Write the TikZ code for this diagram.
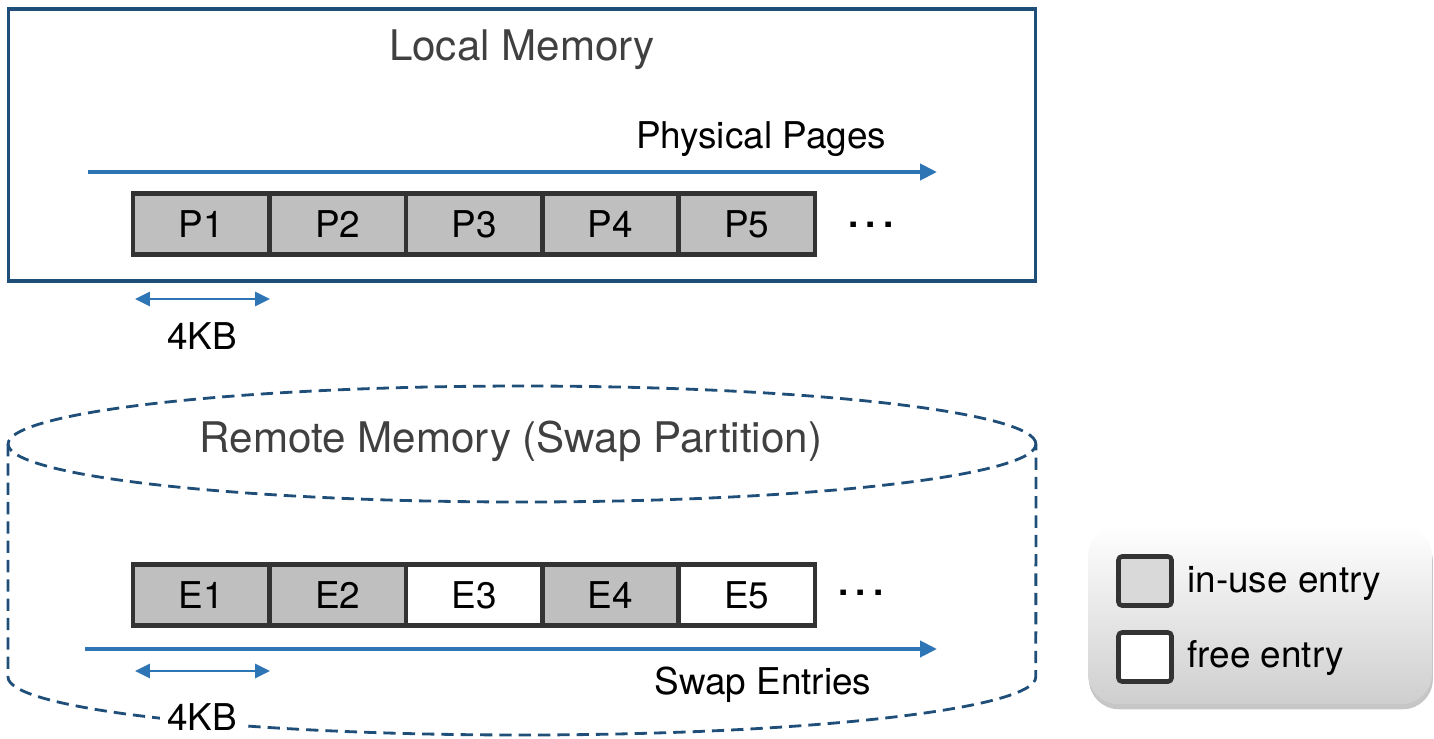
\documentclass[tikz,border=0pt]{standalone}
\usepackage{fontspec}
\setmainfont{TeX Gyre Heros}
\definecolor{memblue}{RGB}{31,78,121}
\definecolor{arrowblue}{RGB}{46,117,182}
\definecolor{cellgray}{RGB}{191,191,191}
\definecolor{cellline}{RGB}{51,51,51}
\definecolor{titlegray}{RGB}{64,64,64}
\usetikzlibrary{arrows.meta,shadows}

\begin{document}
\begin{tikzpicture}[x=0.02cm, y=-0.02cm,
    every node/.style={font=\fontsize{21}{25}\selectfont},
    title/.style={font=\fontsize{24}{28}\selectfont, text=titlegray},
    cell/.style={draw=cellline, line width=2.6pt, fill=cellgray, minimum width=2.728cm, minimum height=1.22cm, inner sep=0pt},
    freecell/.style={cell, fill=white},
    axis/.style={draw=arrowblue, line width=2.3pt, -{Triangle[length=0.34cm, width=0.32cm]}},
    sizearrow/.style={draw=arrowblue, line width=1.6pt, {Triangle[length=0.3cm, width=0.28cm]}-{Triangle[length=0.3cm, width=0.28cm]}},
    cyl/.style={draw=memblue, line width=1.6pt, dash pattern=on 7pt off 4pt},
    dots/.style={font=\fontsize{21}{25}\selectfont\bfseries, inner sep=0pt}]
    \useasboundingbox (0,0) rectangle (1434,738);

    % Local memory
    \node[draw=memblue, line width=1.8pt, minimum width=20.56cm, minimum height=5.44cm] (localmem) at (522,145) {};
    \node[title] (localtitle) at (522,50) {Local Memory};
    \node (physlabel) at (761,139) {Physical Pages};
    \coordinate (physstart) at (88,172);
    \coordinate (physend) at (937,172);
    \draw[axis] (physstart) -- (physend);

    % Physical pages
    \node[cell] (p1) at (201.2,224) {P1};
    \node[cell] (p2) at (337.6,224) {P2};
    \node[cell] (p3) at (474,224) {P3};
    \node[cell] (p4) at (610.4,224) {P4};
    \node[cell] (p5) at (746.8,224) {P5};
    \node[dots] (pdots) at (871,225) {.\hspace{4pt}.\hspace{4pt}.};

    % Page size
    \coordinate (pkbL) at (135,299);
    \coordinate (pkbR) at (270,299);
    \draw[sizearrow] (pkbL) -- (pkbR);
    \node (pkb) at (202,336) {4KB};

    % Remote memory (cylinder)
    \draw[cyl] (522,444) ellipse[x radius=10.28cm, y radius=1.16cm];
    \draw[cyl] (8,444) -- (8,677) arc[start angle=180, end angle=360, x radius=10.28cm, y radius=1.16cm] -- (1036,444);
    \node[title] (remotetitle) at (511,441) {Remote Memory (Swap Partition)};

    % Swap entries
    \node[cell] (e1) at (201.2,595) {E1};
    \node[cell] (e2) at (337.6,595) {E2};
    \node[freecell] (e3) at (474,595) {E3};
    \node[cell] (e4) at (610.4,595) {E4};
    \node[freecell] (e5) at (746.8,595) {E5};
    \node[dots] (edots) at (861,593) {.\hspace{4pt}.\hspace{4pt}.};

    \coordinate (swapstart) at (85,649);
    \coordinate (swapend) at (937,649);
    \draw[axis] (swapstart) -- (swapend);
    \node (swaplabel) at (763,685) {Swap Entries};

    % Entry size
    \coordinate (ekbL) at (135,671);
    \coordinate (ekbR) at (270,671);
    \draw[sizearrow] (ekbL) -- (ekbR);
    \node[fill=white, inner sep=4pt] (ekb) at (202,717) {4KB};

    % Legend
    \node[rounded corners=0.6cm, top color=white, bottom color=gray!38, drop shadow={shadow xshift=0.5pt, shadow yshift=-3pt, opacity=0.45}, minimum width=6.88cm, minimum height=3.56cm] (legend) at (1260,615) {};
    \node[draw=cellline, line width=2.6pt, rounded corners=2pt, fill=gray!30, minimum width=1.06cm, minimum height=0.98cm] (usedkey) at (1145,581) {};
    \node[draw=cellline, line width=2.6pt, rounded corners=2pt, fill=white, minimum width=1.06cm, minimum height=0.98cm] (freekey) at (1145,657) {};
    \node[right, inner sep=0pt] (usedtext) at (1187,583) {in-use entry};
    \node[right, inner sep=0pt] (freetext) at (1187,658) {free entry};
\end{tikzpicture}
\end{document}
